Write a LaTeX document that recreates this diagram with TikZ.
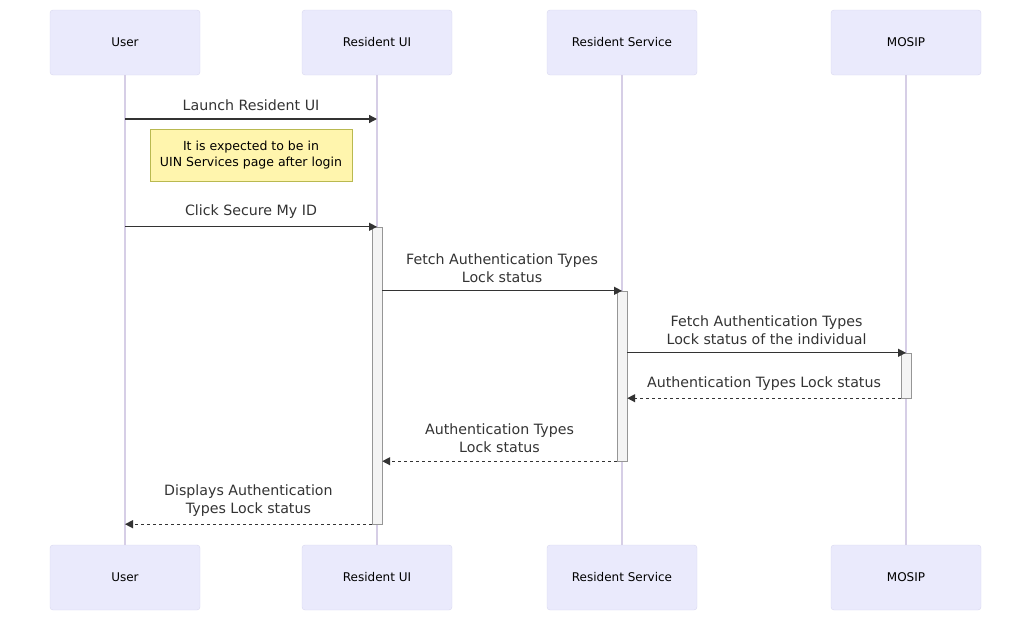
\documentclass[tikz,border=0pt]{standalone}
\usepackage{fontspec}
\setmainfont{DejaVu Sans}
\usetikzlibrary{positioning, arrows.meta}
\tikzstyle{sequence} = [x = 1pt, y = -1pt]
\definecolor{actorFill}{RGB}{234,234,252}
\definecolor{actorLine}{RGB}{218,216,240}
\definecolor{lifeColor}{RGB}{214,206,230}
\definecolor{noteFill}{RGB}{255,245,173}
\definecolor{noteLine}{RGB}{185,185,80}
\definecolor{actFill}{RGB}{244,244,244}
\definecolor{actLine}{RGB}{150,150,150}
\definecolor{signColor}{RGB}{51,51,51}
\tikzstyle{actorStyle} = [draw=actorLine, fill=actorFill, rounded corners = 3pt, minimum width = 150pt, minimum height = 65pt, font=\fontsize{12}{14}\selectfont, text=black]
\tikzstyle{lifeLine} = [color=lifeColor, line width = 1.3pt]
\tikzstyle{activation} = [draw=actLine, fill=actFill, minimum width = 10pt, inner sep = 0pt]
\tikzstyle{msg} = [color=signColor, line width = 1.3pt, -{Triangle[length=8pt, width=8pt]}]
\tikzstyle{reply} = [msg, dash pattern = on 3pt off 3pt]
\tikzstyle{msgText} = [font=\fontsize{14.2}{18}\selectfont, text=signColor, align=center, midway, above = 7.5pt, inner sep = 0pt]
\tikzstyle{noteStyle} = [draw=noteLine, fill=noteFill, minimum width = 202pt, minimum height = 52pt, align=center, font=\fontsize{12.5}{16}\selectfont, text=black]
\newcommand{\participant}[3]{
  \node [actorStyle] (#1Top) at (#2, 42.5) {#3};
  \node [actorStyle] (#1Bot) at (#2, 577.5) {#3};
  \draw [lifeLine] (#1Top) -- (#1Bot);
}
\newcommand{\activate}[4]{\node [activation, minimum height = #4] (#1) at (#2, #3) {};}

\begin{document}
\begin{tikzpicture}[sequence]
            \useasboundingbox (0,0) rectangle (1031,621);
            \participant{user}{125}{User}
            \participant{ui}{377}{Resident UI}
            \participant{rs}{622}{Resident Service}
            \participant{mosip}{906}{MOSIP}

            \coordinate (launchRow) at (0,119);
            \draw [msg] (userTop |- launchRow) -- (uiTop |- launchRow) node [msgText] (launchLabel) {Launch Resident UI};
            \node [noteStyle] (loginNote) at (251,155) {It is expected to be in\\UIN Services page after login};

            \activate{uiAct}{377}{375.5}{297pt}
            \activate{rsAct}{622}{376}{170pt}
            \activate{mosipAct}{906}{375.5}{45pt}

            \draw [msg] (userTop |- uiAct.north) -- (uiTop |- uiAct.north) node [msgText] (clickLabel) {Click Secure My ID};
            \draw [msg] (uiAct.east |- rsAct.north) -- (rsTop |- rsAct.north) node [msgText] (fetchLabel) {Fetch Authentication Types\\Lock status};
            \draw [msg] (rsAct.east |- mosipAct.north) -- (mosipTop |- mosipAct.north) node [msgText] (fetchIndLabel) {Fetch Authentication Types\\Lock status of the individual};
            \draw [reply] (mosipAct.south west) -- (rsAct.east |- mosipAct.south) node [msgText] (mosipReplyLabel) {Authentication Types Lock status};
            \draw [reply] (rsAct.south west) -- (uiAct.east |- rsAct.south) node [msgText] (rsReplyLabel) {Authentication Types\\Lock status};
            \draw [reply] (uiAct.south west) -- (userTop |- uiAct.south) node [msgText] (displayLabel) {Displays Authentication\\Types Lock status};
          \end{tikzpicture}
\end{document}
